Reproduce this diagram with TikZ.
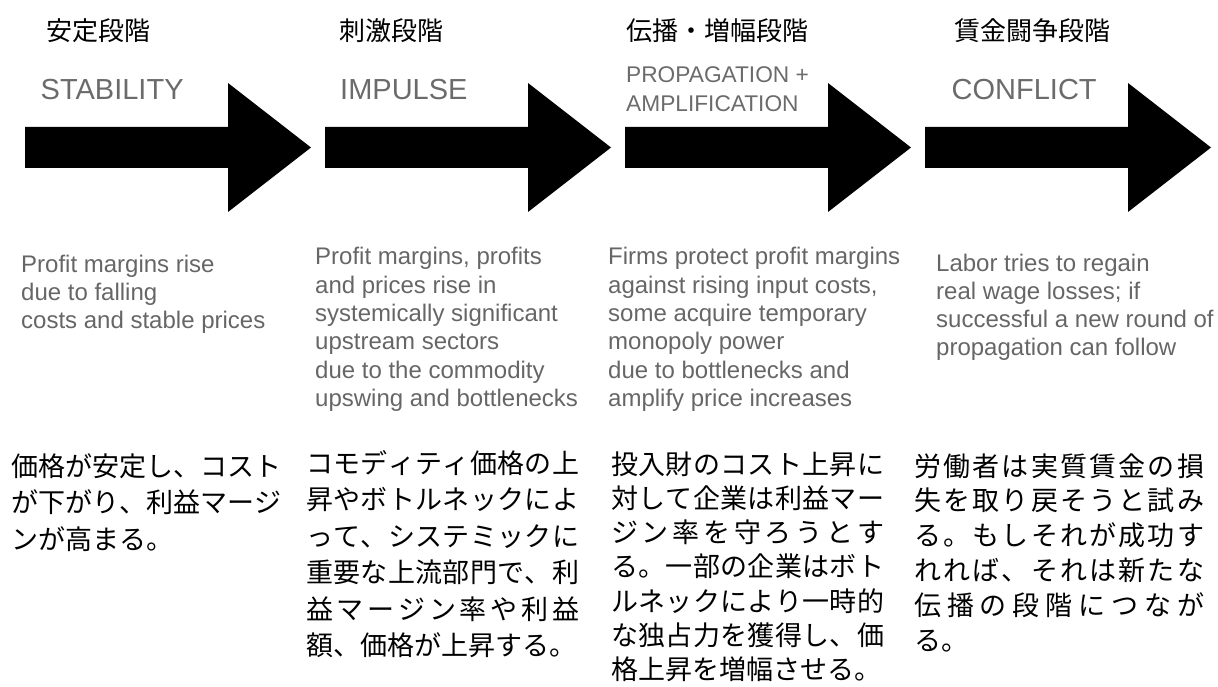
\documentclass[tikz,border=0pt]{standalone}
\usepackage{fontspec}
\setmainfont{Liberation Sans}
\newfontfamily\jp{Noto Sans CJK JP}
\definecolor{titlegray}{HTML}{6B6B6B}
\definecolor{descgray}{HTML}{666666}
\makeatletter
\def\jfull#1#2{\makebox[#1][s]{\jfull@#2\relax\unskip}}
\def\jfull@#1{\ifx#1\relax\else#1\hskip0pt plus 1fil\expandafter\jfull@\fi}
\makeatother
\tikzset{
  bigarrow/.style={fill=black},
  jhead/.style={font=\jp\fontsize{26}{30}\selectfont, anchor=base west, inner sep=0pt},
  entitle/.style={font=\fontsize{29}{34}\selectfont, text=titlegray, anchor=base west, inner sep=0pt},
  entitlesm/.style={font=\fontsize{22.7}{26}\selectfont, text=titlegray, anchor=base west, inner sep=0pt},
  endesc/.style={font=\fontsize{24}{28}\selectfont, text=descgray, anchor=base west, inner sep=0pt},
  jbody/.style={font=\jp\fontsize{27}{30}\selectfont, anchor=base west, inner sep=0pt}
}
\begin{document}
\begin{tikzpicture}[x=1pt,y=-1pt]
\useasboundingbox (0,0) rectangle (1218,687);
% arrows
\foreach \k in {0,1,2,3}{
  \fill[bigarrow] ({25+300*\k},127) -- ({228+300*\k},127) -- ({228+300*\k},83)
    -- ({311+300*\k},147.5) -- ({228+300*\k},212) -- ({228+300*\k},168)
    -- ({25+300*\k},168) -- cycle;
}
% Japanese headings
\node[jhead] (h1) at (46,41) {安定段階};
\node[jhead] (h2) at (339,41) {刺激段階};
\node[jhead] (h3) at (626,41) {伝播・増幅段階};
\node[jhead] (h4) at (954,41) {賃金闘争段階};
% English titles
\node[entitle] (t1) at (40.5,100) {STABILITY};
\node[entitle] (t2) at (340,100) {IMPULSE};
\node[entitlesm] (t3a) at (626,83) {PROPAGATION +};
\node[entitlesm] (t3b) at (626,112) {AMPLIFICATION};
\node[entitle] (t4) at (951.5,100) {CONFLICT};
% English descriptions
\foreach \t [count=\i] in {Profit margins rise, due to falling, costs and stable prices}
  \node[endesc] (eA\i) at (21,{272+28.3*(\i-1)}) {\t};
\foreach \t [count=\i] in {{Profit margins, profits}, and prices rise in, systemically significant, upstream sectors, due to the commodity, upswing and bottlenecks}
  \node[endesc] (eB\i) at (315,{265+28.3*(\i-1)}) {\t};
\foreach \t [count=\i] in {Firms protect profit margins, {against rising input costs,}, some acquire temporary, monopoly power, due to bottlenecks and, amplify price increases}
  \node[endesc] (eC\i) at (608,{265+28.3*(\i-1)}) {\t};
\foreach \t [count=\i] in {Labor tries to regain, real wage losses; if, successful a new round of, propagation can follow}
  \node[endesc] (eD\i) at (936,{271+28.3*(\i-1)}) {\t};
% Japanese descriptions
\foreach \t [count=\i] in {{\jfull{270pt}{価格が安定し、コスト}}, {\jfull{270pt}{が下がり、利益マージ}}, {ンが高まる。}}
  \node[jbody] (jA\i) at (11,{476+36.5*(\i-1)}) {\t};
\foreach \t [count=\i] in {{\jfull{273pt}{コモディティ価格の上}}, {\jfull{273pt}{昇やボトルネックによ}}, {\jfull{273pt}{って、システミックに}}, {\jfull{273pt}{重要な上流部門で、利}}, {\jfull{273pt}{益マージン率や利益}}, {額、価格が上昇する。}}
  \node[jbody] (jB\i) at (306,{473+36.5*(\i-1)}) {\t};
\foreach \t [count=\i] in {{\jfull{273pt}{投入財のコスト上昇に}}, {\jfull{273pt}{対して企業は利益マー}}, {\jfull{273pt}{ジン率を守ろうとす}}, {\jfull{273pt}{る。一部の企業はボト}}, {\jfull{273pt}{ルネックにより一時的}}, {\jfull{273pt}{な独占力を獲得し、価}}, {格上昇を増幅させる。}}
  \node[jbody] (jC\i) at (611,{474+34.3*(\i-1)}) {\t};
\foreach \t [count=\i] in {{\jfull{290pt}{労働者は実質賃金の損}}, {\jfull{290pt}{失を取り戻そうと試み}}, {\jfull{290pt}{る。もしそれが成功す}}, {\jfull{290pt}{れれば、それは新たな}}, {\jfull{290pt}{伝播の段階につなが}}, {る。}}
  \node[jbody] (jD\i) at (914,{476+34.8*(\i-1)}) {\t};
\end{tikzpicture}
\end{document}
